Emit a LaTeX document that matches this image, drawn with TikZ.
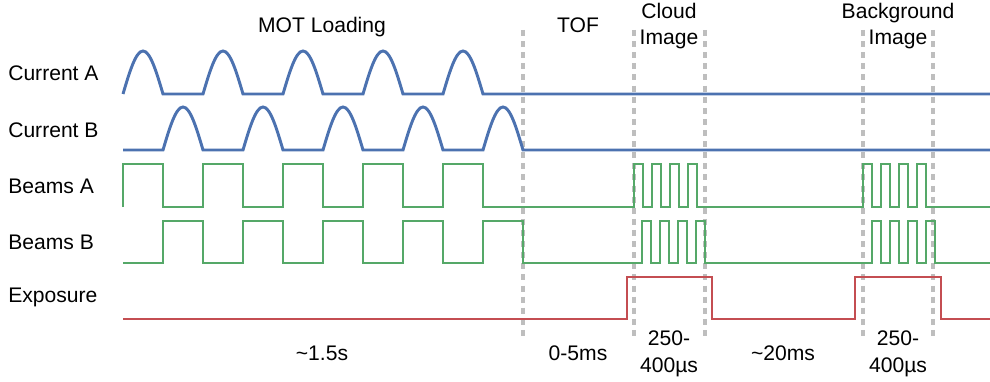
\documentclass[tikz,border=0pt]{standalone}
\usepackage{fontspec}
\setmainfont{Liberation Sans}
\definecolor{curblue}{RGB}{76,114,176}
\definecolor{beamgreen}{RGB}{85,168,104}
\definecolor{expored}{RGB}{196,78,82}
\definecolor{guidegray}{RGB}{190,190,190}
\begin{document}
\begin{tikzpicture}[x=0.025cm,y=-0.025cm,
  wave/.style={line width=2.1pt,line join=miter},
  cur/.style={wave,curblue},
  beam/.style={wave,beamgreen},
  expo/.style={wave,expored},
  guide/.style={guidegray,line width=2.2pt,dash pattern=on 4.3pt off 3.6pt},
  lbl/.style={font=\fontsize{15}{19}\selectfont,inner sep=0pt},
  twoline/.style={lbl,align=center,anchor=base}]
\useasboundingbox (0,0) rectangle (990,381);
% guides
\foreach \g in {523,634,705,863,933}
  \draw[guide] (\g,30) -- (\g,340);
% row labels
\node[lbl,anchor=west] (curA) at (8,73) {Current A};
\node[lbl,anchor=west] (curB) at (8,130) {Current B};
\node[lbl,anchor=west] (beamA) at (8,186) {Beams A};
\node[lbl,anchor=west] (beamB) at (8,242) {Beams B};
\node[lbl,anchor=west] (expo) at (8,297) {Exposure};
% currents
\draw[cur] (123,94) \foreach \x in {123,203,283,363,443} {-- (\x,94) sin (\x+20,51) cos (\x+40,94)} -- (990,94);
\draw[cur] (123,150) \foreach \x in {163,243,323,403,483} {-- (\x,150) sin (\x+20,107) cos (\x+40,150)} -- (990,150);
% beams
\draw[beam] (123,207) -- (123,164) -- (163,164) -- (163,207)
  \foreach \x in {203,283,363,443} {-- (\x,207) -- (\x,164) -- (\x+40,164) -- (\x+40,207)}
  \foreach \x in {634,652,670,688,863,881,899,917} {-- (\x,207) -- (\x,164) -- (\x+9,164) -- (\x+9,207)}
  -- (990,207);
\draw[beam] (123,263)
  \foreach \x in {163,243,323,403,483} {-- (\x,263) -- (\x,221) -- (\x+40,221) -- (\x+40,263)}
  \foreach \x in {642,660,678,696,872,890,908,926} {-- (\x,263) -- (\x,221) -- (\x+9,221) -- (\x+9,263)}
  -- (990,263);
% exposure
\draw[expo] (123,319) -- (627,319) -- (627,277) -- (712,277) -- (712,319)
  -- (855,319) -- (855,277) -- (941,277) -- (941,319) -- (990,319);
% phases
\node[lbl,anchor=base] (mot) at (322,33) {MOT Loading};
\node[lbl,anchor=base] (tof) at (578,33) {TOF};
\node[twoline] (cloud) at (669,45) {Cloud\\Image};
\node[twoline] (bg) at (898,45) {Background\\Image};
% durations
\node[lbl,anchor=base] (tmot) at (322,360) {\textasciitilde1.5s};
\node[lbl,anchor=base] (ttof) at (578,360) {0-5ms};
\node[twoline] (tcloud) at (669,372) {250-\\400µs};
\node[lbl,anchor=base] (twait) at (783,360) {\textasciitilde20ms};
\node[twoline] (tbg) at (898,372) {250-\\400µs};
\end{tikzpicture}
\end{document}
